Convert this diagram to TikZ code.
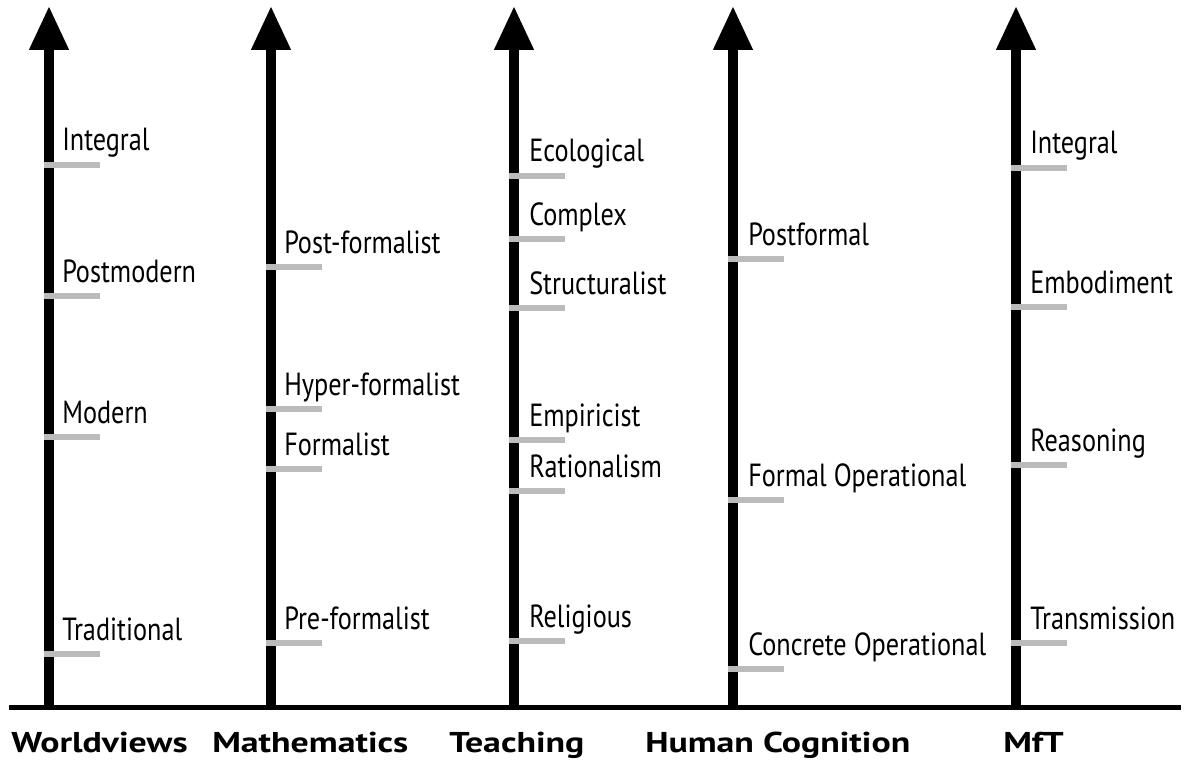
\documentclass[tikz,border=0pt]{standalone}
\usepackage{fontspec}
\usetikzlibrary{arrows.meta}
\newfontfamily\labfont[FakeStretch=0.82]{PT Sans}
\newfontfamily\titfont[FakeStretch=1.25]{PT Sans}
\tikzset{
  axisline/.style={line width=7.2pt, -{Triangle[width=28pt,length=33pt]}},
  baseline/.style={line width=3.75pt},
  tick/.style={line width=4.5pt, draw={rgb,255:red,187;green,187;blue,187}},
  lab/.style={anchor=base west, inner sep=0pt, font=\labfont\fontsize{24}{28}\selectfont},
  tit/.style={anchor=base west, inner sep=0pt, font=\titfont\bfseries\fontsize{21.5}{26}\selectfont}
}
\begin{document}
\begin{tikzpicture}[x=0.75pt,y=-0.75pt]
\useasboundingbox (0,0) rectangle (1189,763);
% baseline
\coordinate (bl) at (9,707);
\coordinate (br) at (1181,707);
\draw[baseline] (bl) -- (br);
% axes
\foreach \n/\x in {a/49, b/271, c/514, d/733, e/1016}{
  \coordinate (\n bot) at (\x,707);
  \coordinate (\n top) at (\x,6);
  \draw[axisline] (\n bot) -- (\n top);
}
% ticks
\foreach \x/\y in {49/165, 49/296, 49/437, 49/654,
                   271/267, 271/409, 271/469, 271/643,
                   514/176, 514/239, 514/308, 514/440, 514/491, 514/641,
                   733/259, 733/500, 733/669,
                   1016/168, 1016/307, 1016/465, 1016/643}{
  \coordinate (t0) at (\x-5,\y);
  \coordinate (t1) at (\x+51,\y);
  \draw[tick] (t0) -- (t1);
}
% labels
\node[lab] (a1) at (62,151) {Integral};
\node[lab] (a2) at (62,282) {Postmodern};
\node[lab] (a3) at (62,423) {Modern};
\node[lab] (a4) at (62,640) {Traditional};
\node[lab] (b1) at (284,253) {Post-formalist};
\node[lab] (b2) at (284,395) {Hyper-formalist};
\node[lab] (b3) at (284,455) {Formalist};
\node[lab] (b4) at (284,629) {Pre-formalist};
\node[lab] (c1) at (529,162) {Ecological};
\node[lab] (c2) at (529,225) {Complex};
\node[lab] (c3) at (529,294) {Structuralist};
\node[lab] (c4) at (529,426) {Empiricist};
\node[lab] (c5) at (529,477) {Rationalism};
\node[lab] (c6) at (529,627) {Religious};
\node[lab] (d1) at (748,245) {Postformal};
\node[lab] (d2) at (748,486) {Formal Operational};
\node[lab] (d3) at (748,655) {Concrete Operational};
\node[lab] (e1) at (1030,154) {Integral};
\node[lab] (e2) at (1030,293) {Embodiment};
\node[lab] (e3) at (1030,451) {Reasoning};
\node[lab] (e4) at (1030,629) {Transmission};
% titles
\node[tit] (ta) at (11,752) {Worldviews};
\node[tit] (tb) at (212,752) {Mathematics};
\node[tit] (tc) at (449,752) {Teaching};
\node[tit] (td) at (645,752) {Human Cognition};
\node[tit] (te) at (1003,752) {MfT};
\end{tikzpicture}
\end{document}
